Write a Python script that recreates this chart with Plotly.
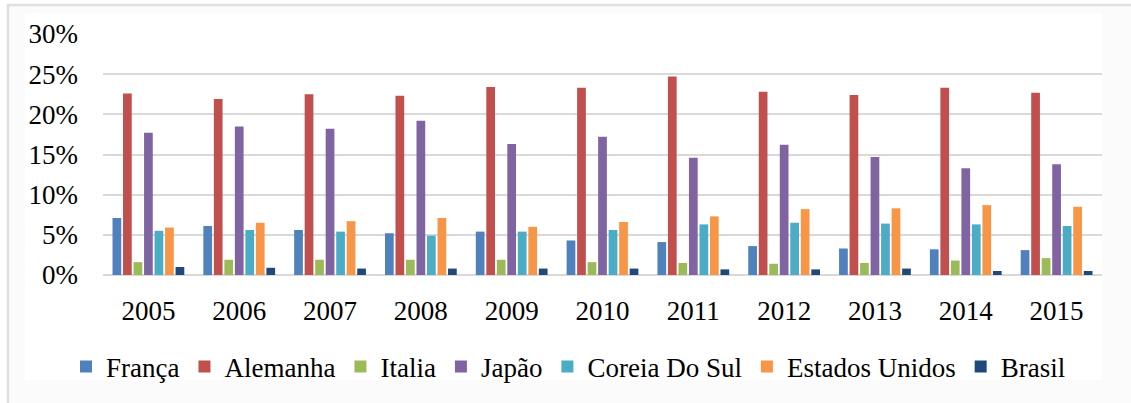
import plotly.graph_objects as go

anos = ["2005", "2006", "2007", "2008", "2009", "2010", "2011", "2012", "2013", "2014", "2015"]

franca = [7.1, 6.1, 5.6, 5.2, 5.4, 4.3, 4.1, 3.6, 3.3, 3.2, 3.1]
alemanha = [22.6, 21.9, 22.5, 22.3, 23.4, 23.3, 24.7, 22.8, 22.4, 23.3, 22.7]
italia = [1.6, 1.9, 1.9, 1.9, 1.9, 1.6, 1.5, 1.4, 1.5, 1.8, 2.1]
japao = [17.7, 18.5, 18.2, 19.2, 16.3, 17.2, 14.6, 16.2, 14.7, 13.3, 13.8]
coreia = [5.5, 5.6, 5.4, 4.9, 5.4, 5.6, 6.3, 6.5, 6.4, 6.3, 6.1]
eua = [5.9, 6.5, 6.7, 7.1, 6.0, 6.6, 7.3, 8.2, 8.3, 8.7, 8.5]
brasil = [1.0, 0.9, 0.8, 0.8, 0.8, 0.8, 0.7, 0.7, 0.8, 0.5, 0.5]

series = [
    ("França", franca, "#4F81BD"),
    ("Alemanha", alemanha, "#C0504D"),
    ("Italia", italia, "#9BBB59"),
    ("Japão", japao, "#8064A2"),
    ("Coreia Do Sul", coreia, "#4BACC6"),
    ("Estados Unidos", eua, "#F79646"),
    ("Brasil", brasil, "#1F497D"),
]

serif = "Liberation Serif"

fig = go.Figure()
for nome, valores, cor in series:
    fig.add_trace(go.Bar(
        x=anos,
        y=[v / 100 for v in valores],
        name=nome,
        marker=dict(color=cor, line=dict(width=0)),
    ))

# Plot-area geometry in pixels (used for the frame and legend placement)
W, H = 1131, 403
L, R, T, B = 103, 29, 34, 128
pw, ph = W - L - R, H - T - B


def px_x(p):
    return (p - L) / pw


def px_y(p):
    return (H - B - p) / ph


fig.update_layout(
    width=W,
    height=H,
    margin=dict(l=L, r=R, t=T, b=B, autoexpand=False),
    paper_bgcolor="white",
    plot_bgcolor="rgba(0,0,0,0)",
    barmode="group",
    bargap=0.19,
    bargroupgap=0.17,
    font=dict(family=serif, size=27, color="#000000"),
    showlegend=True,
    legend=dict(
        orientation="h",
        xref="paper", yref="paper",
        x=px_x(66), y=px_y(367),
        xanchor="left", yanchor="middle",
        font=dict(family=serif, size=27, color="#000000"),
        itemwidth=30,
        tracegroupgap=0,
        bgcolor="rgba(0,0,0,0)",
    ),
    xaxis=dict(
        showgrid=False,
        showline=False,
        ticks="",
        tickfont=dict(family=serif, size=27, color="#000000"),
        ticklabelstandoff=17,
        fixedrange=True,
    ),
    yaxis=dict(
        range=[0, 0.30],
        dtick=0.05,
        tickformat=".0%",
        showgrid=True,
        gridcolor="#d9d9d9",
        gridwidth=1.5,
        zeroline=True,
        zerolinecolor="#d9d9d9",
        zerolinewidth=1.5,
        showline=False,
        ticks="",
        tickfont=dict(family=serif, size=27, color="#000000"),
        ticklabelstandoff=24,
        fixedrange=True,
    ),
    shapes=[
        # chart frame: faint grey panel with a thin border
        dict(type="rect", xref="paper", yref="paper",
             x0=px_x(8), x1=px_x(W + 10), y0=px_y(H + 10), y1=px_y(5),
             fillcolor="#fbfbfb",
             line=dict(color="#e0e0e0", width=2.5), layer="below"),
        # white inner panel
        dict(type="rect", xref="paper", yref="paper",
             x0=px_x(25), x1=px_x(1102), y0=px_y(380), y1=px_y(13),
             fillcolor="white", line=dict(width=0), layer="below"),
    ],
)

fig.write_html("out.html")
